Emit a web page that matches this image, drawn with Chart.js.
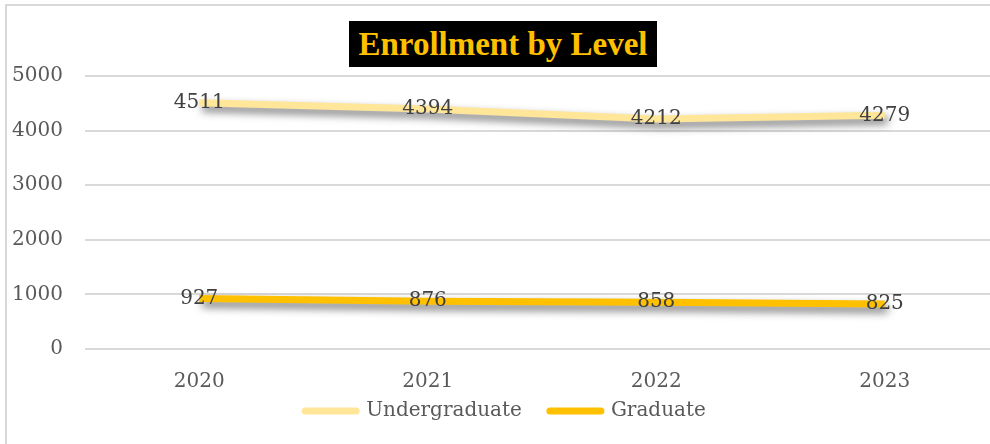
<!DOCTYPE html>
<html>
<head>
<meta charset="utf-8">
<script src="https://cdn.jsdelivr.net/npm/chart.js@4.4.0/dist/chart.umd.min.js"></script>
<style>
  html, body { margin: 0; padding: 0; background: #fff; overflow: hidden; }
  #box {
    position: absolute; left: 5px; top: 4px; width: 1000px; height: 460px;
    border-left: 2px solid #d9d9d9; border-top: 2px solid #d9d9d9;
  }
  #wrap { position: absolute; left: 0; top: 0; width: 992px; height: 438px; }
  #title {
    position: absolute; left: 342px; top: 15px; width: 308px; height: 46px;
    background: #000; color: #FFC000;
    font: bold 33px "Liberation Serif", serif;
    line-height: 46px; text-align: center; white-space: nowrap;
  }
</style>
</head>
<body>
<div id="box">
  <div id="wrap"><canvas id="grafico"></canvas></div>
  <div id="title">Enrollment by Level</div>
</div>
<script>
const anos = ['2020', '2021', '2022', '2023'];
const undergraduate = [4511, 4394, 4212, 4279];
const graduate = [927, 876, 858, 825];
const yTicks = [0, 1000, 2000, 3000, 4000, 5000];

const fonte = '"DejaVu Serif", serif';

// sombra das linhas, estilo Excel
const sombra = {
  id: 'sombra',
  beforeDatasetsDraw(chart) {
    const ctx = chart.ctx;
    ctx.save();
    ctx.shadowColor = 'rgba(0,0,0,0.55)';
    ctx.shadowBlur = 8;
    ctx.shadowOffsetX = 3;
    ctx.shadowOffsetY = 5;
  },
  afterDatasetsDraw(chart) {
    chart.ctx.restore();
  }
};

// rótulos dos valores no centro de cada ponto
const rotulos = {
  id: 'rotulos',
  afterDatasetsDraw(chart) {
    const ctx = chart.ctx;
    ctx.save();
    ctx.font = '20px ' + fonte;
    ctx.fillStyle = '#404040';
    ctx.textAlign = 'center';
    ctx.textBaseline = 'middle';
    chart.data.datasets.forEach((ds, i) => {
      chart.getDatasetMeta(i).data.forEach((pt, j) => {
        ctx.fillText(String(ds.data[j]), pt.x, pt.y);
      });
    });
    ctx.restore();
  }
};

const ctx = document.getElementById('grafico').getContext('2d');
new Chart(ctx, {
  type: 'line',
  data: {
    labels: anos,
    datasets: [{
      label: 'Undergraduate',
      data: undergraduate,
      borderColor: '#FFE699',
      backgroundColor: '#FFE699',
      borderWidth: 7,
      pointRadius: 0,
      tension: 0
    }, {
      label: 'Graduate',
      data: graduate,
      borderColor: '#FFC000',
      backgroundColor: '#FFC000',
      borderWidth: 7,
      pointRadius: 0,
      tension: 0
    }]
  },
  options: {
    responsive: true,
    maintainAspectRatio: false,
    animation: false,
    layout: { padding: { top: 70, left: 5, right: 0, bottom: 13 } },
    plugins: {
      tooltip: { enabled: false },
      legend: {
        position: 'bottom',
        labels: {
          color: '#595959',
          font: { family: fonte, size: 20 },
          usePointStyle: true,
          pointStyleWidth: 51,
          boxHeight: 7,
          padding: 28,
          generateLabels(chart) {
            return chart.data.datasets.map((ds, i) => ({
              text: ds.label,
              fillStyle: ds.borderColor,
              strokeStyle: ds.borderColor,
              lineWidth: 7,
              lineCap: 'round',
              pointStyle: 'line',
              fontColor: '#595959',
              datasetIndex: i
            }));
          }
        }
      }
    },
    scales: {
      x: {
        offset: true,
        grid: { display: false, drawTicks: false },
        border: { display: false },
        // mirror evita o recorte dos rótulos; padding negativo empurra para baixo
        ticks: { color: '#595959', font: { family: fonte, size: 20 }, mirror: true, padding: -45 },
        afterFit(scale) { scale.height = 24; }
      },
      y: {
        min: 0,
        max: 5000,
        afterBuildTicks(axis) { axis.ticks = yTicks.map(v => ({ value: v })); },
        grid: { color: '#d9d9d9', lineWidth: 2, drawTicks: false },
        border: { display: false },
        ticks: {
          color: '#595959',
          font: { family: fonte, size: 20 },
          padding: 22,
          callback: v => String(v)
        },
        afterFit(scale) { scale.width = 73; }
      }
    }
  },
  plugins: [sombra, rotulos]
});
</script>
</body>
</html>
